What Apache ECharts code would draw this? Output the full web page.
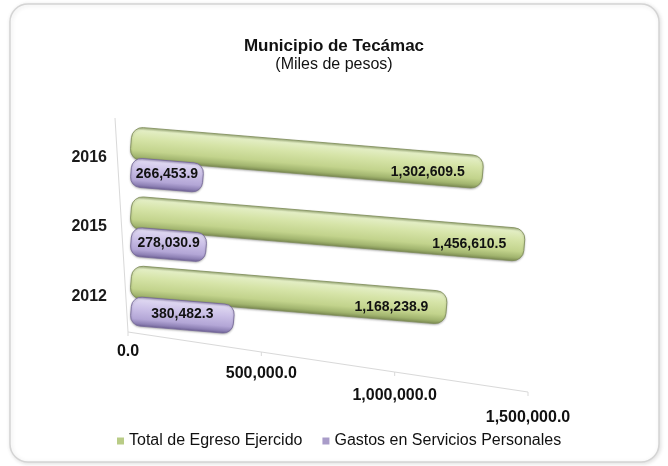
<!DOCTYPE html>
<html>
<head>
<meta charset="utf-8">
<script src="https://cdn.jsdelivr.net/npm/echarts@6/dist/echarts.min.js"></script>
<style>
    html, body { margin: 0; padding: 0; background: #fff; }
    #chart { width: 668px; height: 466px; }
</style>
</head>
<body>
<div id="chart"></div>
<script>
// Data (bottom to top, as on the category axis)
const years = ['2012', '2015', '2016'];
const totalEgreso = [1168238.9, 1456610.5, 1302609.5];
const serviciosPersonales = [380482.3, 278030.9, 266453.9];
const axisTicks = [0, 500000, 1000000, 1500000];
const seriesNames = ['Total de Egreso Ejercido', 'Gastos en Servicios Personales'];

const FONT = '"Liberation Sans", Arial, sans-serif';
const BAR_SLOPE = 0.083;          // fake perspective of the bars
const ANGLE = Math.atan(BAR_SLOPE);

const fmt = v => v.toLocaleString('en-US', { minimumFractionDigits: 1, maximumFractionDigits: 1 });

function gradient(stops) {
    return new echarts.graphic.LinearGradient(0, 0, 0, 1,
        stops.map(s => ({ offset: s[0], color: s[1] })));
}

const greenFill = gradient([
    [0, '#a9ba82'], [0.1, '#e3eec4'], [0.35, '#d6e4a8'],
    [0.7, '#c2d38c'], [0.88, '#a2b56f'], [1, '#7a8950']
]);
const purpleFill = gradient([
    [0, '#a99dc9'], [0.1, '#ded7f1'], [0.4, '#cbc0e7'],
    [0.75, '#b3a6d6'], [0.9, '#8f82b6'], [1, '#6d6094']
]);

/**
 * Slanted rounded bar with its value label
 */
function barRenderer(offset, height, radius, fill, stroke, labelPos) {
    return function (params, api) {
        const value = api.value(0);
        const cat = api.value(1);
        const start = api.coord([0, cat]);
        const end = api.coord([value, cat]);
        const x0 = start[0];
        const yc = start[1] + offset;
        const dx = end[0] - x0;
        const len = dx / Math.cos(ANGLE);
        const lx = labelPos === 'end' ? dx - 55 : dx / 2;
        const ly = yc + lx * BAR_SLOPE + (labelPos === 'end' ? 4 : -1);
        return {
            type: 'group',
            children: [{
                type: 'rect',
                x: x0,
                y: yc,
                rotation: -ANGLE,
                shape: { x: 0, y: -height / 2, width: len, height: height, r: radius },
                style: {
                    fill: fill, stroke: stroke, lineWidth: 0.8,
                    shadowBlur: 2, shadowColor: 'rgba(0,0,0,0.25)', shadowOffsetY: 1
                }
            }, {
                type: 'text',
                x: x0 + lx,
                y: ly,
                style: {
                    text: fmt(value),
                    fill: '#111',
                    font: 'bold 14px ' + FONT,
                    align: 'center',
                    verticalAlign: 'middle'
                }
            }]
        };
    };
}

// Slanted floor axis with its tick labels
function floorAxisRenderer(params, api) {
    const i = params.dataIndex;
    const band = api.size([0, 1])[1];
    const origin = api.coord([0, 0]);
    const floorY = origin[1] + band / 2 + 1;
    const fx0 = origin[0] - 3;
    const scale = 400 / 405;
    const fx = v => fx0 + (api.coord([v, 0])[0] - origin[0]) * scale;
    const lineY = x => floorY + (x - fx0) * 0.15;

    const x = fx(axisTicks[i]);
    const children = [{
        type: 'text',
        x: x,
        y: floorY + 20 + (x - fx0) * 0.165,
        style: {
            text: fmt(axisTicks[i]),
            fill: '#111',
            font: 'bold 16px ' + FONT,
            align: 'center',
            verticalAlign: 'middle'
        }
    }, {
        type: 'line',
        shape: { x1: x, y1: lineY(x), x2: x, y2: lineY(x) + 4 },
        style: { stroke: '#d9d9d9', lineWidth: 1 }
    }];
    if (i < axisTicks.length - 1) {
        const xn = fx(axisTicks[i + 1]);
        children.push({
            type: 'line',
            shape: { x1: x, y1: lineY(x), x2: xn, y2: lineY(xn) },
            style: { stroke: '#d9d9d9', lineWidth: 1 }
        });
    }
    if (i === 0) {
        const top = api.coord([0, years.length - 1])[1] - band / 2 - 5;
        children.push({
            type: 'line',
            shape: { x1: fx0 - 13, y1: top, x2: fx0, y2: floorY },
            style: { stroke: '#d9d9d9', lineWidth: 1 }
        });
    }
    return { type: 'group', children: children };
}

const chart = echarts.init(document.getElementById('chart'));

chart.setOption({
    backgroundColor: '#fff',
    animation: false,
    textStyle: { fontFamily: FONT },
    graphic: [{
        type: 'rect',
        z: -10,
        shape: { x: 10, y: 4, width: 649, height: 458, r: 18 },
        style: {
            fill: '#fff',
            stroke: '#d4d4d4',
            lineWidth: 1.5,
            shadowBlur: 4,
            shadowColor: 'rgba(0,0,0,0.12)',
            shadowOffsetX: 1,
            shadowOffsetY: 1
        }
    }],
    title: {
        text: 'Municipio de Tecámac',
        subtext: '(Miles de pesos)',
        left: 'center',
        top: 31,
        itemGap: 0,
        textStyle: { fontSize: 17, fontWeight: 'bold', color: '#111', lineHeight: 20, fontFamily: FONT },
        subtextStyle: { fontSize: 16, color: '#111', lineHeight: 18, fontFamily: FONT }
    },
    legend: {
        data: seriesNames,
        left: 112,
        top: 428,
        icon: 'rect',
        itemWidth: 7,
        itemHeight: 7,
        itemGap: 20,
        textStyle: { fontSize: 16, color: '#111', fontFamily: FONT }
    },
    grid: {
        left: 131,
        right: 132,
        top: 123,
        bottom: 135
    },
    xAxis: {
        type: 'value',
        min: 0,
        max: 1500000,
        interval: 500000,
        show: false
    },
    yAxis: {
        type: 'category',
        data: years,
        axisLine: { show: false },
        axisTick: { show: false },
        splitLine: { show: false },
        axisLabel: {
            margin: 24,
            fontSize: 16,
            fontWeight: 'bold',
            color: '#1a1a1a',
            fontFamily: FONT
        }
    },
    series: [{
        name: seriesNames[0],
        type: 'custom',
        itemStyle: { color: '#b9cc86' },
        encode: { x: 0, y: 1 },
        data: totalEgreso.map((v, i) => [v, i]),
        renderItem: barRenderer(-14.5, 33, 11, greenFill, '#7f8e5a', 'end'),
        z: 2
    }, {
        name: seriesNames[1],
        type: 'custom',
        itemStyle: { color: '#a99cc9' },
        encode: { x: 0, y: 1 },
        data: serviciosPersonales.map((v, i) => [v, i]),
        renderItem: barRenderer(14.5, 29, 10, purpleFill, '#75689a', 'center'),
        z: 3
    }, {
        name: 'axis',
        type: 'custom',
        silent: true,
        encode: { x: 0, y: 1 },
        data: axisTicks.map(t => [t, 0]),
        renderItem: floorAxisRenderer,
        z: 1
    }]
});
</script>
</body>
</html>
